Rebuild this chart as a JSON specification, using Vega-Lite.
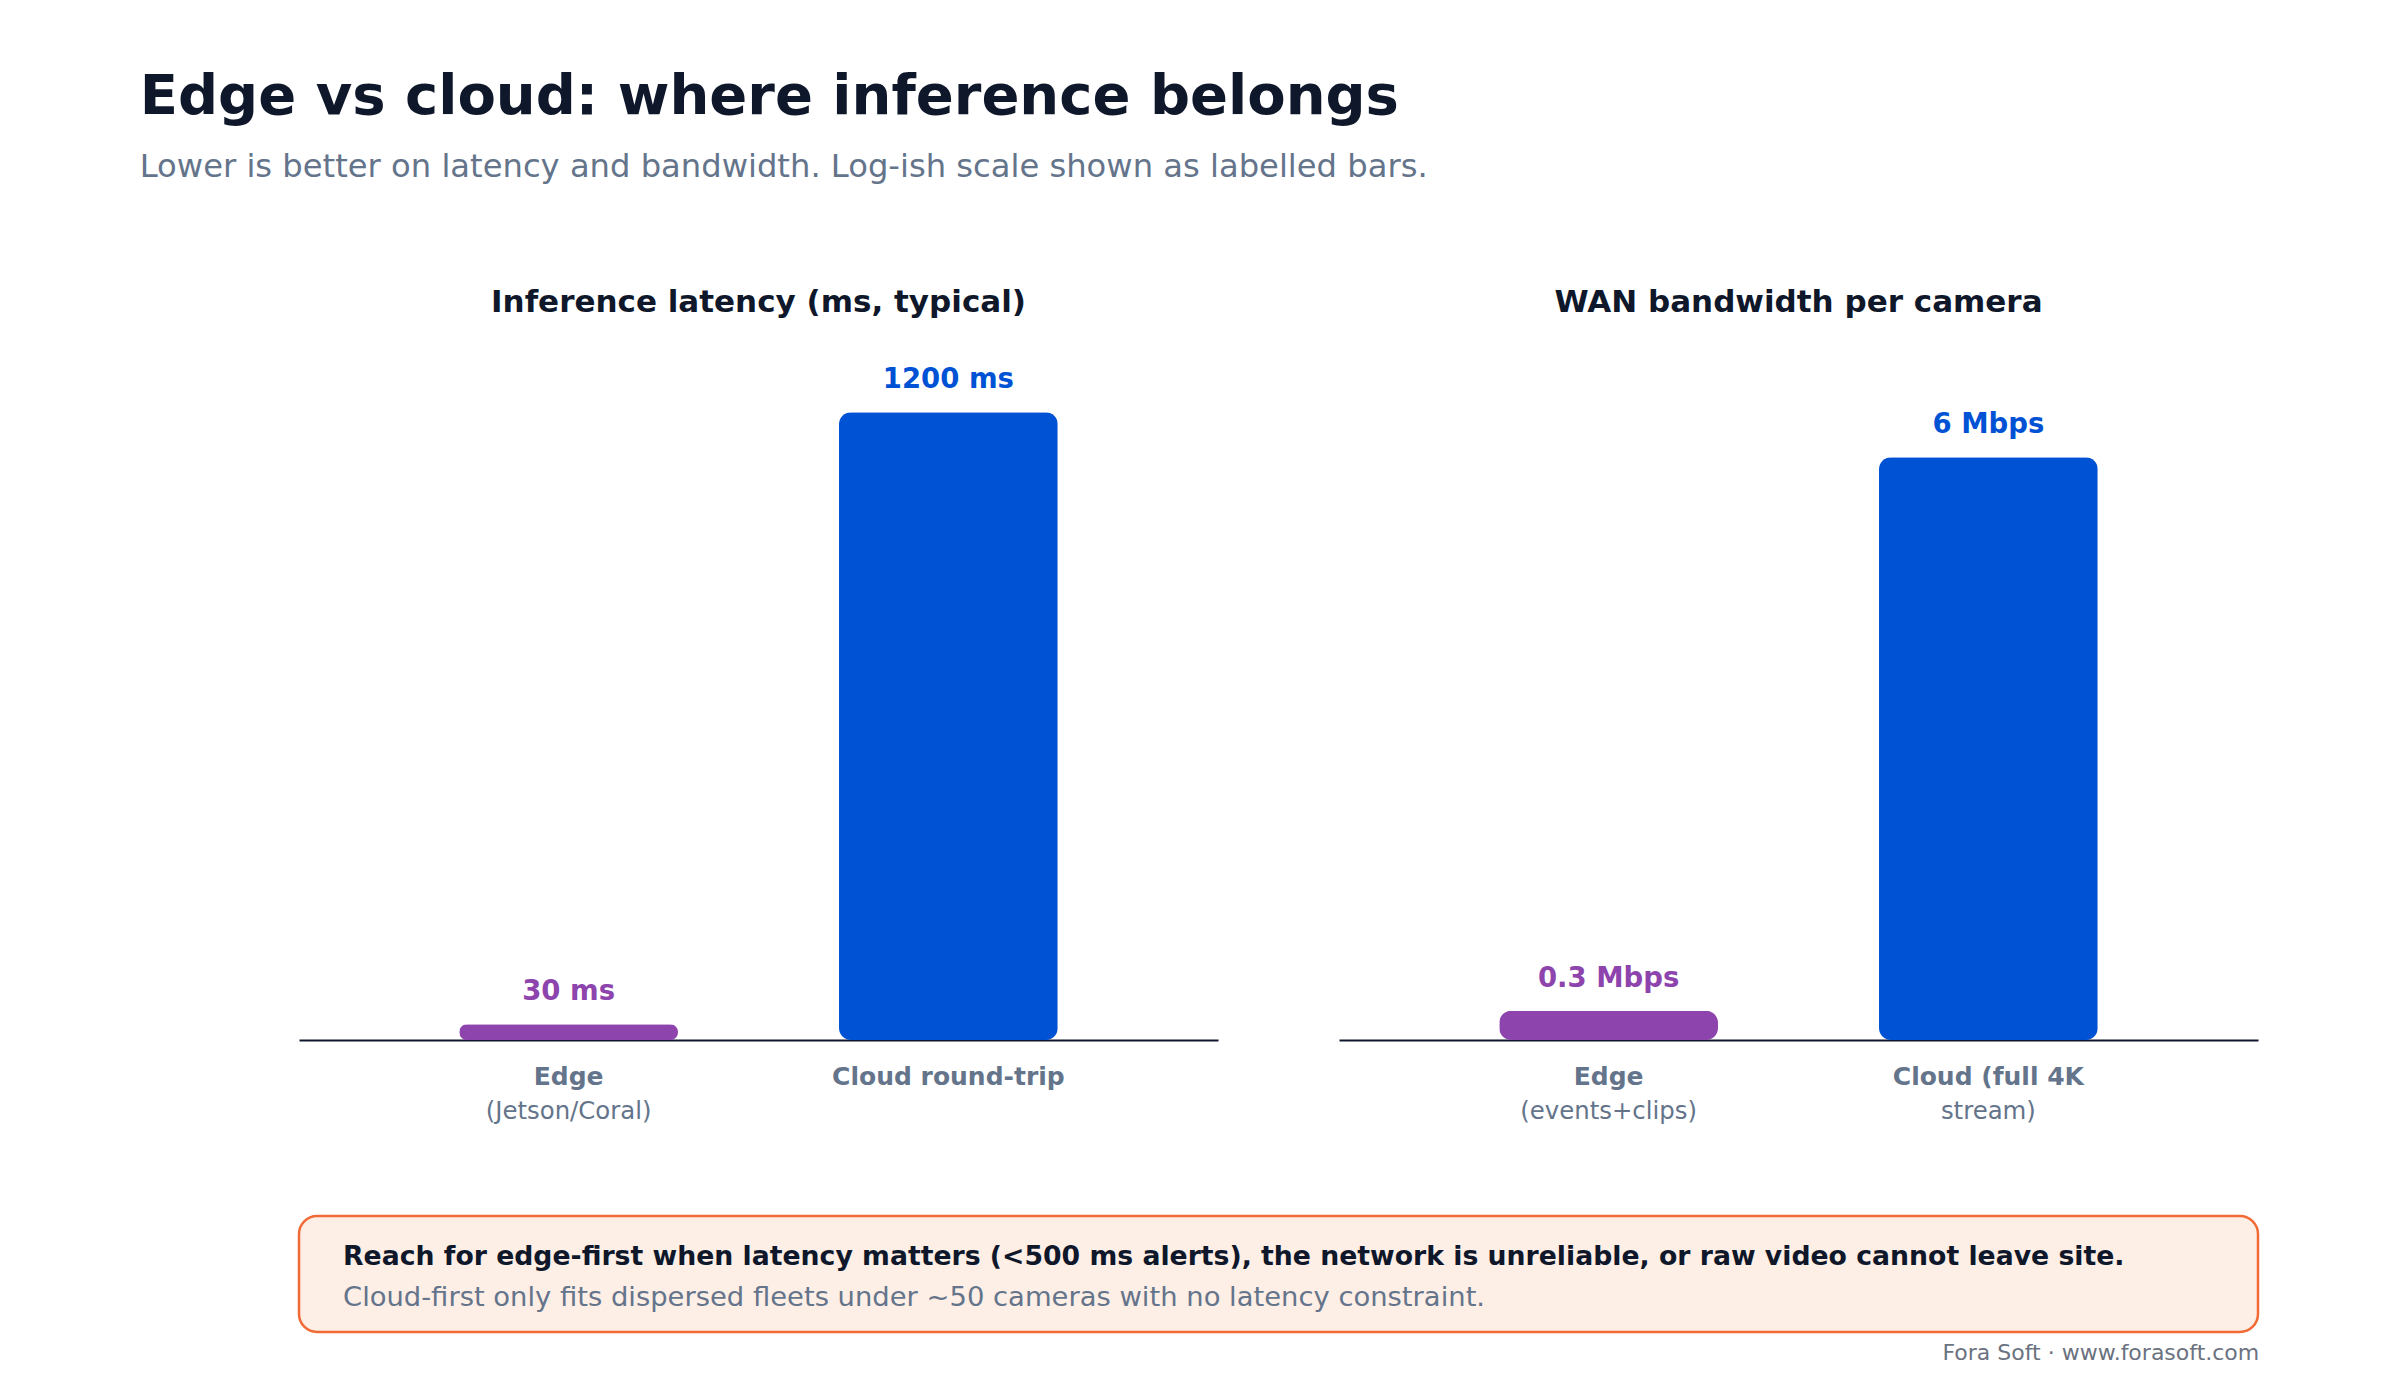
{
  "$schema": "https://vega.github.io/schema/vega-lite/v6.json",
  "background": "white",
  "padding": {"left": 139, "top": 68, "right": 40, "bottom": 20},
  "config": {"font": "DejaVu Sans", "view": {"stroke": null}},
  "title": {
    "text": "Edge vs cloud: where inference belongs",
    "subtitle": "Lower is better on latency and bandwidth. Log-ish scale shown as labelled bars.",
    "anchor": "start",
    "dx": -158,
    "offset": 103,
    "font": "DejaVu Sans",
    "fontSize": 56,
    "fontWeight": "bold",
    "color": "#0f172a",
    "subtitleFont": "DejaVu Sans",
    "subtitleFontSize": 32.2,
    "subtitleColor": "#64748b",
    "subtitlePadding": 26
  },
  "datasets": {
    "latency": [
      {"cat": "Edge", "group": "edge", "value": 30, "label": "30 ms", "line1": "Edge", "line2": "(Jetson/Coral)"},
      {"cat": "Cloud", "group": "cloud", "value": 1200, "label": "1200 ms", "line1": "Cloud round-trip", "line2": ""}
    ],
    "bandwidth": [
      {"cat": "Edge", "group": "edge", "value": 0.3, "label": "0.3 Mbps", "line1": "Edge", "line2": "(events+clips)"},
      {"cat": "Cloud", "group": "cloud", "value": 6, "label": "6 Mbps", "line1": "Cloud (full 4K", "line2": "stream)"}
    ]
  },
  "spacing": 90,
  "vconcat": [
    {
      "spacing": 121,
      "hconcat": [
        {
          "data": {"name": "latency"},
          "width": 919,
          "height": 680,
          "title": {"text": "Inference latency (ms, typical)", "fontSize": 31, "fontWeight": "bold", "color": "#0f172a", "anchor": "middle", "offset": 41},
          "encoding": {
            "x": {"field": "cat", "type": "nominal", "sort": null,
                  "scale": {"paddingInner": 0.424, "paddingOuter": 0.422},
                  "axis": {"labels": false, "ticks": false, "title": null, "grid": false, "domainColor": "#0f172a", "domainWidth": 2}},
            "y": {"field": "value", "type": "quantitative", "scale": {"domain": [0, 1300]}, "axis": null},
            "color": {"field": "group", "type": "nominal", "scale": {"domain": ["edge", "cloud"], "range": ["#8e44ad", "#0052d4"]}, "legend": null}
          },
          "layer": [
            {"mark": {"type": "bar", "cornerRadius": 12}},
            {"mark": {"type": "text", "dy": -24, "baseline": "alphabetic", "fontSize": 27.5, "fontWeight": "bold"},
             "encoding": {"text": {"field": "label"}}},
            {"mark": {"type": "text", "dy": 45, "baseline": "alphabetic", "fontSize": 25, "fontWeight": "bold"},
             "encoding": {"y": {"datum": 0}, "text": {"field": "line1"}, "color": {"value": "#64748b"}}},
            {"mark": {"type": "text", "dy": 79, "baseline": "alphabetic", "fontSize": 24.4, "fontWeight": "normal"},
             "encoding": {"y": {"datum": 0}, "text": {"field": "line2"}, "color": {"value": "#64748b"}}}
          ]
        },
        {
          "data": {"name": "bandwidth"},
          "width": 919,
          "height": 680,
          "title": {"text": "WAN bandwidth per camera", "fontSize": 31, "fontWeight": "bold", "color": "#0f172a", "anchor": "middle", "offset": 41},
          "encoding": {
            "x": {"field": "cat", "type": "nominal", "sort": null,
                  "scale": {"paddingInner": 0.424, "paddingOuter": 0.422},
                  "axis": {"labels": false, "ticks": false, "title": null, "grid": false, "domainColor": "#0f172a", "domainWidth": 2}},
            "y": {"field": "value", "type": "quantitative", "scale": {"domain": [0, 7]}, "axis": null},
            "color": {"field": "group", "type": "nominal", "scale": {"domain": ["edge", "cloud"], "range": ["#8e44ad", "#0052d4"]}, "legend": null}
          },
          "layer": [
            {"mark": {"type": "bar", "cornerRadius": 12}},
            {"mark": {"type": "text", "dy": -24, "baseline": "alphabetic", "fontSize": 27.5, "fontWeight": "bold"},
             "encoding": {"text": {"field": "label"}}},
            {"mark": {"type": "text", "dy": 45, "baseline": "alphabetic", "fontSize": 25, "fontWeight": "bold"},
             "encoding": {"y": {"datum": 0}, "text": {"field": "line1"}, "color": {"value": "#64748b"}}},
            {"mark": {"type": "text", "dy": 79, "baseline": "alphabetic", "fontSize": 24.4, "fontWeight": "normal"},
             "encoding": {"y": {"datum": 0}, "text": {"field": "line2"}, "color": {"value": "#64748b"}}}
          ]
        }
      ]
    },
    {
      "title": {"text": "Fora Soft · www.forasoft.com", "orient": "bottom", "anchor": "end", "fontSize": 22, "fontWeight": "normal", "color": "#6b7280", "offset": 10},
      "vconcat": [
        {
          "width": 1959,
          "height": 116,
          "view": {"fill": "#fdeee6", "stroke": "#f26a35", "strokeWidth": 2.5, "cornerRadius": 18},
          "title": {
            "text": "Reach for edge-first when latency matters (<500 ms alerts), the network is unreliable, or raw video cannot leave site.",
            "subtitle": "Cloud-first only fits dispersed fleets under ~50 cameras with no latency constraint.",
            "anchor": "start",
            "frame": "group",
            "orient": "top",
            "dx": 44,
            "offset": -95,
            "fontSize": 26.7,
            "fontWeight": "bold",
            "color": "#0f172a",
            "subtitleFontSize": 27.4,
            "subtitleColor": "#64748b",
            "subtitlePadding": 13
          },
          "data": {"values": [{}]},
          "mark": {"type": "text"},
          "encoding": {}
        }
      ]
    }
  ]
}
